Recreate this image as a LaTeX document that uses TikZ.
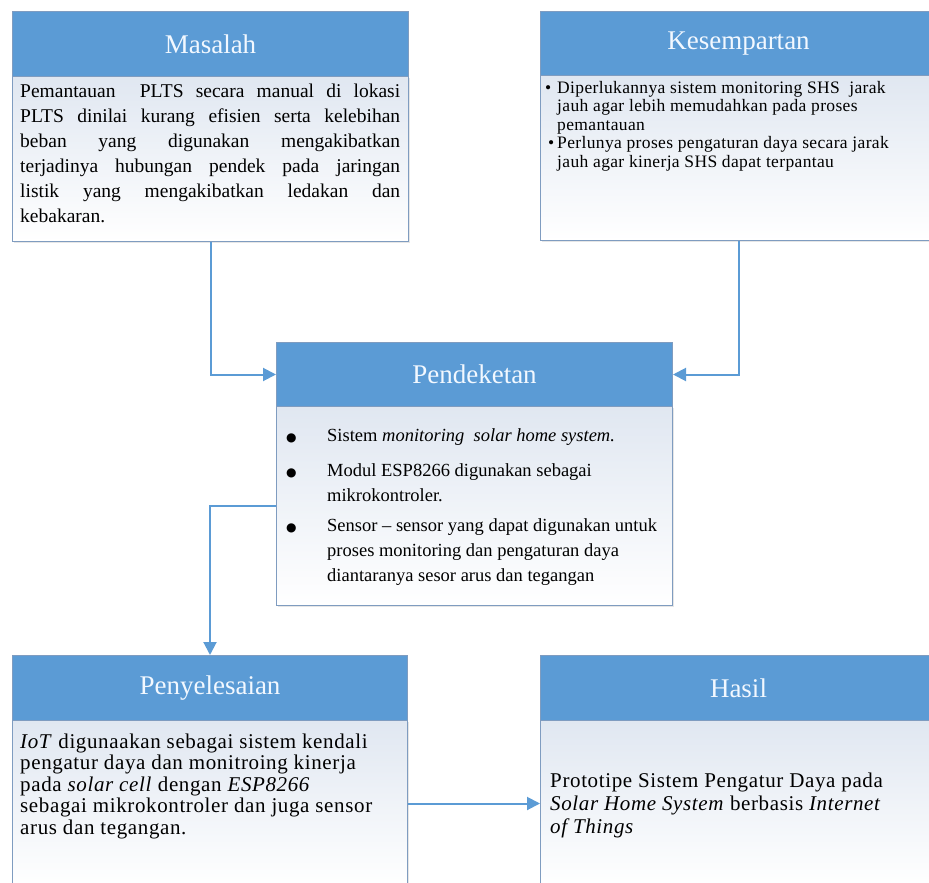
\documentclass[tikz,border=0pt]{standalone}
\usepackage{fontspec}
\setmainfont{Liberation Serif}
\newfontfamily\symfont{DejaVu Sans}
\usetikzlibrary{arrows.meta,shadows}
\definecolor{hdr}{HTML}{5B9BD5}
\definecolor{brd}{HTML}{7F9CC0}
\definecolor{bodytop}{HTML}{E0E7F1}
\definecolor{arr}{HTML}{5B9BD5}
\definecolor{hdrtext}{HTML}{F2F8FF}
\newcommand{\bigdot}{{\symfont\fontsize{12}{12}\selectfont ●}}
\begin{document}
\begin{tikzpicture}[x=1pt,y=-1pt,
  hdrbox/.style={draw=brd, fill=hdr, line width=1pt, anchor=north west,
    minimum height=65pt, text=hdrtext, font=\fontsize{27}{30}\selectfont, inner sep=0pt},
  bodybox/.style={draw=brd, line width=1pt, anchor=north west,
    top color=bodytop, bottom color=white, inner sep=0pt,
    drop shadow={opacity=0.2, shadow xshift=1.5pt, shadow yshift=-1.5pt}},
  conn/.style={draw=arr, line width=2pt, -{Triangle[length=13pt,width=13pt]}},
  txt/.style={anchor=north west, inner sep=0pt, align=left, text=black}]
\useasboundingbox (0,0) rectangle (929,883);
\clip (0,0) rectangle (929,883);

% Masalah
\node[bodybox, minimum width=396pt, minimum height=165pt] (mb) at (12,76) {};
\node[hdrbox, minimum width=396pt] (mh) at (12,11) {Masalah};
% Kesempartan
\node[bodybox, minimum width=396pt, minimum height=165pt] (kb) at (540,75) {};
\node[hdrbox, minimum width=396pt, minimum height=64pt] (kh) at (540,11) {Kesempartan};
% Pendekatan
\node[bodybox, minimum width=396pt, minimum height=199pt] (pb) at (276,406) {};
\node[hdrbox, minimum width=396pt, minimum height=64pt] (ph) at (276,342) {Pendeketan};
% Penyelesaian
\node[bodybox, minimum width=395pt, minimum height=166pt] (sb) at (12,720) {};
\node[hdrbox, minimum width=395pt] (sh) at (12,655) {Penyelesaian};
% Hasil
\node[bodybox, minimum width=396pt, minimum height=166pt] (hb) at (540,720) {};
\node[hdrbox, minimum width=396pt] (hh) at (540,655) {Hasil};

% texts
\node[txt, font=\fontsize{19.5}{25}\selectfont] (mt) at (20,80) {%
\begin{tabular}{@{}l@{}}
\makebox[380pt][s]{Pemantauan\ \ PLTS secara manual di lokasi}\\
\makebox[380pt][s]{PLTS dinilai kurang efisien serta kelebihan}\\
\makebox[380pt][s]{beban yang digunakan mengakibatkan}\\
\makebox[380pt][s]{terjadinya hubungan pendek pada jaringan}\\
\makebox[380pt][s]{listik yang mengakibatkan ledakan dan}\\
kebakaran.
\end{tabular}};

\node[txt, font=\fontsize{17.5}{18.5}\selectfont\addfontfeature{LetterSpace=2}] (kt) at (545,80) {%
\begin{tabular}{@{}l@{\hspace{3pt}}l@{}}
\textbullet & Diperlukannya sistem monitoring SHS\ \ jarak\\
 & jauh agar lebih memudahkan pada proses\\
 & pemantauan\\
\,\textbullet & Perlunya proses pengaturan daya secara jarak\\
 & jauh agar kinerja SHS dapat terpantau
\end{tabular}};

\node[txt, font=\fontsize{18.5}{25}\selectfont] (pt) at (286,424) {%
\begin{tabular}{@{}p{41pt}@{}l@{}}
\bigdot & Sistem \textit{monitoring\ \ solar home system.}\\[10pt]
\bigdot & Modul ESP8266 digunakan sebagai\\
 & mikrokontroler.\\[5pt]
\bigdot & Sensor -- sensor yang dapat digunakan untuk\\
 & proses monitoring dan pengaturan daya\\
 & diantaranya sesor arus dan tegangan
\end{tabular}};

\node[txt, font=\fontsize{21}{21.5}\selectfont\addfontfeature{LetterSpace=3}] (st) at (20,733) {%
\begin{tabular}{@{}l@{}}
\textit{IoT} digunaakan sebagai sistem kendali\\
pengatur daya dan monitroing kinerja\\
pada \textit{solar cell} dengan \textit{ESP8266}\\
sebagai mikrokontroler dan juga sensor\\
arus dan tegangan.
\end{tabular}};

\node[txt, font=\fontsize{21}{23}\selectfont\addfontfeature{LetterSpace=3}] (ht) at (550,771) {%
\begin{tabular}{@{}l@{}}
Prototipe Sistem Pengatur Daya pada\\
\textit{Solar Home System} berbasis \textit{Internet}\\
\textit{of Things}
\end{tabular}};

% connectors
\draw[conn] (mb.south) |- (ph.west);
\draw[conn] (kb.south) |- (ph.east);
\draw[conn] (pb.west) -| (sh.north);
\draw[conn] (sb.east) -- (hb.west);
\end{tikzpicture}
\end{document}
